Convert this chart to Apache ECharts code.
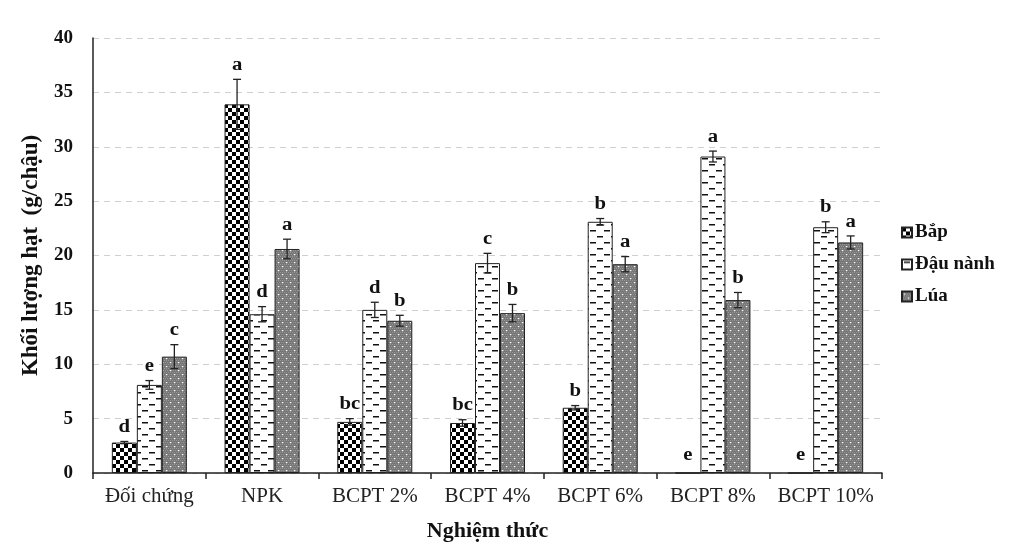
<!DOCTYPE html>
<html><head><meta charset="utf-8">
<script src="https://cdn.jsdelivr.net/npm/echarts@6/dist/echarts.min.js"></script>
<style>html,body{margin:0;padding:0;background:#fff}#c{width:1014px;height:552px}</style>
</head><body><div id="c"></div>
<script>
const categories = ['Đối chứng','NPK','BCPT 2%','BCPT 4%','BCPT 6%','BCPT 8%','BCPT 10%'];
const seriesNames = ['Bắp','Đậu nành','Lúa'];
const bap = [2.8, 33.9, 4.7, 4.6, 6.0, 0, 0];
const bapErr = [0.1, 2.3, 0.3, 0.3, 0.2, 0, 0];
const bapLetters = ['d','a','bc','bc','b','e','e'];
const dauNanh = [8.1, 14.6, 15.0, 19.3, 23.1, 29.1, 22.6];
const dauNanhErr = [0.4, 0.7, 0.7, 0.9, 0.3, 0.5, 0.5];
const dauNanhLetters = ['e','d','d','c','b','a','b'];
const lua = [10.7, 20.6, 14.0, 14.7, 19.2, 15.9, 21.2];
const luaErr = [1.1, 0.9, 0.5, 0.8, 0.7, 0.7, 0.6];
const luaLetters = ['c','a','b','b','a','b','a'];
const yTicks = [0,5,10,15,20,25,30,35,40];

function makeCanvas(w,h,draw){const c=document.createElement('canvas');c.width=w;c.height=h;draw(c.getContext('2d'));return c;}
const checker = makeCanvas(8,8,ctx=>{ctx.fillStyle='#fff';ctx.fillRect(0,0,8,8);ctx.fillStyle='#000';ctx.fillRect(0,0,4,4);ctx.fillRect(4,4,4,4);});
const dashes = makeCanvas(14,12,ctx=>{ctx.fillStyle='#fff';ctx.fillRect(0,0,14,12);ctx.fillStyle='#111';ctx.fillRect(2,2,6,1.5);ctx.fillRect(9,8,5,1.5);ctx.fillRect(0,8,1,1.5);});
const dots = makeCanvas(8,8,ctx=>{ctx.fillStyle='#777';ctx.fillRect(0,0,8,8);ctx.fillStyle='#959595';for(let i=0;i<8;i+=2)for(let j=(i/2)%2;j<8;j+=2)ctx.fillRect(j,i,1,1);ctx.fillStyle='#fff';ctx.fillRect(2,2,1.2,1.2);ctx.fillRect(6,6,1.2,1.2);});
const patterns=[checker,dashes,dots];
const values=[bap,dauNanh,lua], errs=[bapErr,dauNanhErr,luaErr], letters=[bapLetters,dauNanhLetters,luaLetters];
const BW=25;
const FONT='Liberation Serif';

const series=[];
seriesNames.forEach((n,i)=>{
  series.push({name:n,type:'bar',data:values[i],barWidth:BW,barGap:'0%',
    itemStyle:{color:{image:patterns[i],repeat:'repeat'},borderColor:'#222',borderWidth:1}});
});
seriesNames.forEach((n,i)=>{
  series.push({type:'custom',name:n+'-err',silent:true,z:5,
    data:values[i].map((v,k)=>[k,v,errs[i][k]]),
    renderItem:(params,api)=>{
      const k=api.value(0),v=api.value(1),e=api.value(2),lt=letters[i][k];
      const off=(i-1)*BW;
      const top=api.coord([k,v+e]),bot=api.coord([k,v-e]);
      const x=top[0]+off;
      const children=[];
      if(e>0){
        const st={stroke:'#222',lineWidth:1.3};
        children.push({type:'line',shape:{x1:x,y1:top[1],x2:x,y2:bot[1]},style:st});
        children.push({type:'line',shape:{x1:x-4,y1:top[1],x2:x+4,y2:top[1]},style:st});
        children.push({type:'line',shape:{x1:x-4,y1:bot[1],x2:x+4,y2:bot[1]},style:st});
      }
      children.push({type:'text',x:x,y:top[1]-(v===0?9:5),scaleX:1.15,
        style:{text:lt,x:0,y:0,align:'center',verticalAlign:'bottom',
        font:'bold 18px "'+FONT+'"',fill:'#111'}});
      return {type:'group',children};
    }});
});

const chart=echarts.init(document.getElementById('c'),null,{renderer:'canvas'});
chart.setOption({
  animation:false,
  backgroundColor:'#fff',
  grid:{left:93,right:132,top:38,bottom:79,containLabel:false},
  legend:{orient:'vertical',left:896,top:218,itemGap:13,itemWidth:10,itemHeight:10,
    data:seriesNames.map(n=>({name:n,icon:'rect'})),
    textStyle:{fontFamily:FONT,fontWeight:'bold',fontSize:19,color:'#111',padding:[0,0,0,-2]}},
  xAxis:{type:'category',data:categories,
    axisLine:{lineStyle:{color:'#222',width:1.5}},
    axisTick:{show:true,length:6,lineStyle:{color:'#222',width:1.5}},
    axisLabel:{interval:0,hideOverlap:false,fontFamily:FONT,fontSize:21,color:'#222',margin:13},
    name:'Nghiệm thức',nameLocation:'middle',nameGap:47,
    nameTextStyle:{fontFamily:FONT,fontWeight:'bold',fontSize:22,color:'#111'}},
  yAxis:{type:'value',min:0,max:40,interval:5,
    axisLine:{show:true,lineStyle:{color:'#222',width:1.5}},
    axisTick:{show:false},
    axisLabel:{fontFamily:FONT,fontWeight:'bold',fontSize:19,color:'#111',margin:20,
      formatter:v=>yTicks.includes(v)?String(v):''},
    splitLine:{lineStyle:{color:'#d0d0d0',type:[6,5],width:1}},
    name:'Khối lượng hạt  (g/chậu)',nameLocation:'middle',nameGap:50,
    nameTextStyle:{fontFamily:FONT,fontWeight:'bold',fontSize:23,color:'#111'}},
  series
});
</script></body></html>
